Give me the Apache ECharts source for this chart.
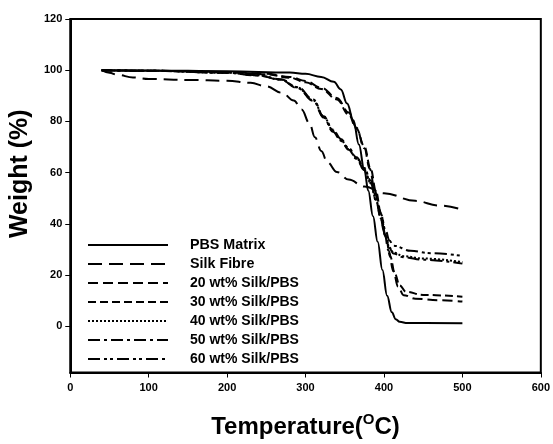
<!DOCTYPE html>
<html>
<head>
<meta charset="utf-8">
<script src="https://cdn.jsdelivr.net/npm/echarts@6/dist/echarts.min.js"></script>
<style>html,body{margin:0;padding:0;background:#fff;}#c{width:553px;height:444px;}</style>
</head>
<body>
<div id="c"></div>
<script>
const seriesNames = ['PBS Matrix', 'Silk Fibre', '20 wt% Silk/PBS', '30 wt% Silk/PBS', '40 wt% Silk/PBS', '50 wt% Silk/PBS', '60 wt% Silk/PBS'];

const pbsT = [40, 100, 200, 280, 300, 320, 336, 345, 353, 361, 368, 375, 380, 386, 392, 398, 404, 410, 415, 420, 430, 500];
const pbsW = [100, 99.9, 99.6, 99.1, 98.6, 97.4, 95.5, 92.5, 87, 80.5, 71, 61, 53, 43, 33, 22, 12, 5.5, 2.8, 1.8, 1.3, 1.2];

const silkT = [40, 50, 60, 80, 100, 150, 200, 230, 250, 270, 285, 295, 305, 312, 320, 328, 340, 355, 375, 400, 440, 470, 500];
const silkW = [100, 99, 98.2, 97.2, 96.6, 96.2, 95.9, 95.1, 93.7, 91.2, 88.2, 84.7, 79.3, 73.8, 68.5, 64, 60.3, 57.3, 54.6, 52, 49, 47.2, 45.6];

const w20T = [40, 100, 200, 250, 280, 300, 320, 340, 355, 365, 375, 382, 388, 394, 400, 406, 412, 418, 425, 440, 470, 500];
const w20W = [100, 99.8, 99.3, 98.6, 97.4, 95.8, 93.2, 89.2, 83.5, 77.5, 69.5, 61.5, 53.5, 45.5, 37.5, 29.5, 21.5, 15.5, 12.2, 10.8, 10.2, 9.7];

const w30T = [40, 100, 200, 250, 280, 300, 320, 340, 355, 365, 375, 383, 390, 396, 402, 408, 414, 420, 428, 450, 500];
const w30W = [100, 99.8, 99.2, 98.4, 97.1, 95.3, 92.7, 88.6, 82.7, 77.2, 70.2, 61.5, 52.5, 44.3, 35.5, 27.3, 20.5, 16, 13.5, 12.3, 11.6];

const w40T = [40, 100, 200, 240, 268, 290, 310, 323, 335, 345, 355, 365, 375, 383, 390, 396, 402, 407, 412, 425, 450, 500];
const w40W = [100, 99.8, 99, 98, 96.4, 93.2, 88.2, 82, 76.5, 72.8, 69.2, 65.6, 61.2, 56, 49.3, 42.3, 35.2, 30.8, 28.8, 27.4, 26.5, 25.1];

const w50T = [40, 100, 200, 240, 268, 290, 310, 323, 335, 345, 355, 365, 375, 383, 390, 396, 402, 407, 412, 425, 450, 500];
const w50W = [100, 99.8, 99, 97.9, 96.3, 93, 88, 81.5, 76, 72.5, 69, 65.4, 61, 56, 49, 42, 35, 30.5, 28.5, 27, 26, 24.5];

const w60T = [40, 100, 200, 240, 268, 290, 310, 323, 335, 345, 355, 365, 375, 383, 390, 396, 402, 407, 412, 434, 460, 500];
const w60W = [100, 99.8, 99, 98, 96.5, 93.4, 88.6, 82, 76.8, 73.2, 69.6, 66, 61.8, 57, 50.5, 44, 37.5, 33.5, 31.5, 29.5, 28.6, 27.5];

const xTicks = [0, 100, 200, 300, 400, 500, 600];
const yTicks = [0, 20, 40, 60, 80, 100, 120];

const seriesT = [pbsT, silkT, w20T, w30T, w40T, w50T, w60T];
const seriesW = [pbsW, silkW, w20W, w30W, w40W, w50W, w60W];
const dashes = ['solid', [14, 7], [10, 5], [8, 4], [2, 2], [12, 4, 3, 4], [12, 4, 3, 3, 3, 4]];

const zip = (t, w) => t.map((v, i) => [v, w[i]]);

const chart = echarts.init(document.getElementById('c'));
const FONT = '"Liberation Sans", Arial, sans-serif';

chart.setOption({
  animation: false,
  backgroundColor: '#fff',
  grid: { left: 70, right: 12, top: 19, bottom: 70, show: true, borderColor: '#000', borderWidth: 2, backgroundColor: 'transparent' },
  legend: {
    orient: 'vertical',
    left: 87,
    top: 238,
    padding: 0,
    itemWidth: 80,
    itemHeight: 14,
    itemGap: 5,
    itemStyle: { opacity: 0 },
    data: seriesNames,
    formatter: function (name) {
      return seriesNames.indexOf(name) < 2 ? '{a|' + name + '}' : '{b|' + name + '}';
    },
    textStyle: {
      rich: {
        a: { fontFamily: FONT, fontWeight: 'bold', fontSize: 14.3, lineHeight: 14, color: '#000', padding: [0, 0, 0, 17] },
        b: { fontFamily: FONT, fontWeight: 'bold', fontSize: 14, lineHeight: 14, color: '#000', padding: [0, 0, 0, 17] }
      }
    }
  },
  xAxis: {
    type: 'value',
    min: 0,
    max: 600,
    interval: 100,
    name: '{a|Temperature(}{s|O}{a|C)}',
    nameLocation: 'middle',
    nameGap: 40,
    nameTextStyle: {
      rich: {
        a: { fontFamily: FONT, fontWeight: 'bold', fontSize: 24, color: '#000' },
        s: { fontFamily: FONT, fontWeight: 'bold', fontSize: 15, color: '#000', padding: [0, 0, 14, 0] }
      }
    },
    splitLine: { show: false },
    axisLine: { show: true, onZero: false, lineStyle: { color: '#000', width: 2 } },
    axisTick: { show: true, inside: false, length: 5, lineStyle: { color: '#000', width: 1 } },
    axisLabel: { fontFamily: FONT, fontWeight: 'bold', fontSize: 11, color: '#000', margin: 10 }
  },
  yAxis: {
    type: 'value',
    min: -18,
    max: 120,
    name: 'Weight (%)',
    nameLocation: 'middle',
    nameGap: 28,
    nameTextStyle: { fontFamily: FONT, fontWeight: 'bold', fontSize: 25, color: '#000', padding: [0, 0, 0, 44] },
    splitLine: { show: false },
    axisLine: { show: true, onZero: false, lineStyle: { color: '#000', width: 2 } },
    axisTick: { show: true, inside: false, length: 5, customValues: yTicks, lineStyle: { color: '#000', width: 1 } },
    axisLabel: { fontFamily: FONT, fontWeight: 'bold', fontSize: 11, color: '#000', margin: 8, customValues: yTicks }
  },
  series: seriesNames.map((n, i) => ({
    name: n,
    type: 'line',
    data: zip(seriesT[i], seriesW[i]),
    smooth: 0.4,
    smoothMonotone: 'x',
    symbol: 'none',
    showSymbol: false,
    itemStyle: { color: '#000' },
    lineStyle: { color: '#000', width: 2, type: dashes[i] }
  }))
});
</script>
</body>
</html>
